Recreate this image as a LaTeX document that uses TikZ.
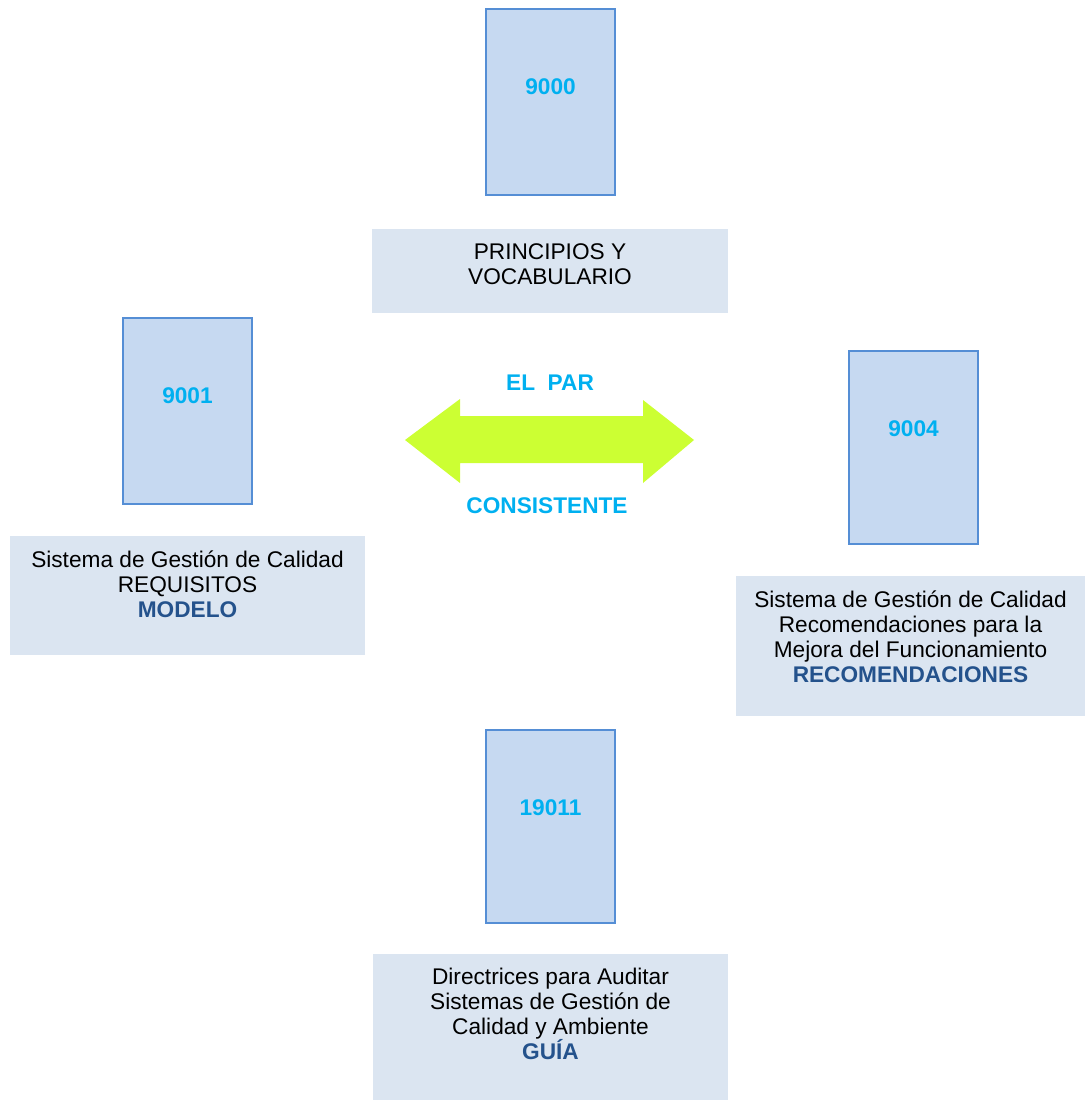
\documentclass[tikz,border=0pt]{standalone}
\usepackage{fontspec}
\setmainfont{Liberation Sans}
\usetikzlibrary{calc}
\definecolor{isofill}{RGB}{198,217,241}
\definecolor{isoline}{RGB}{85,142,213}
\definecolor{isocyan}{RGB}{0,176,240}
\definecolor{isodark}{RGB}{36,82,140}
\definecolor{captfill}{RGB}{219,229,241}
\definecolor{pargreen}{RGB}{204,255,51}

\begin{document}
\begin{tikzpicture}[x=0.75pt,y=-0.75pt,
		every node/.style={font=\fontsize{17}{18.75}\selectfont},
		normbox/.style={draw=isoline,fill=isofill,line width=1.5pt,minimum width=96.75pt,inner sep=0pt},
		captbox/.style={fill=captfill,inner sep=0pt},
		numlbl/.style={text=isocyan,font=\fontsize{17}{18.75}\selectfont\bfseries,inner sep=0pt},
		captxt/.style={align=center,anchor=north,inner sep=0pt}]
		\newcommand\normbox[5]{%
			\node[normbox,minimum height=#3*0.75pt] (#4) at (#1,#2) {};
			\node[numlbl] (#4lbl) at ([yshift=-78.5*0.75pt]#4.north) {#5};
		}
		\newcommand\captbox[6]{%
			\node[captbox,minimum width=#3*0.75pt,minimum height=#4*0.75pt] (#5) at (#1,#2) {};
			\node[captxt] (#5txt) at ([yshift=-14.5*0.75pt]#5.north) {#6};
		}

		\useasboundingbox (0,0) rectangle (1086,1102);

		% norm documents
		\normbox{550.5}{102}{186}{n9000}{9000};
		\normbox{187.5}{411}{186}{n9001}{9001};
		\normbox{913.5}{447.5}{193}{n9004}{9004};
		\normbox{550.5}{826.5}{193}{n19011}{19011};

		% captions
		\captbox{550}{271}{356}{84}{c9000}{PRINCIPIOS Y\\VOCABULARIO};
		\captbox{187.5}{595.5}{355}{119}{c9001}{Sistema de Gestión de Calidad\\REQUISITOS\\{\color{isodark}\bfseries MODELO}};
		\captbox{910.5}{646}{349}{140}{c9004}{Sistema de Gestión de Calidad\\Recomendaciones para la\\Mejora del Funcionamiento\\{\color{isodark}\bfseries RECOMENDACIONES}};
		\captbox{550.5}{1027}{355}{146}{c19011}{Directrices para Auditar\\Sistemas de Gestión de\\Calidad y Ambiente\\{\color{isodark}\bfseries GUÍA}};

		% the pair
		\fill[pargreen] (405,440) -- (460,399) -- (460,416) -- (643,416) -- (643,400) -- (694,440)
			-- (643,483) -- (643,463) -- (460,463) -- (460,483) -- cycle;
		\node[numlbl] (elpar) at (550,383) {EL\ \ PAR};
		\node[numlbl] (consis) at (547,506) {CONSISTENTE};
	\end{tikzpicture}
\end{document}
